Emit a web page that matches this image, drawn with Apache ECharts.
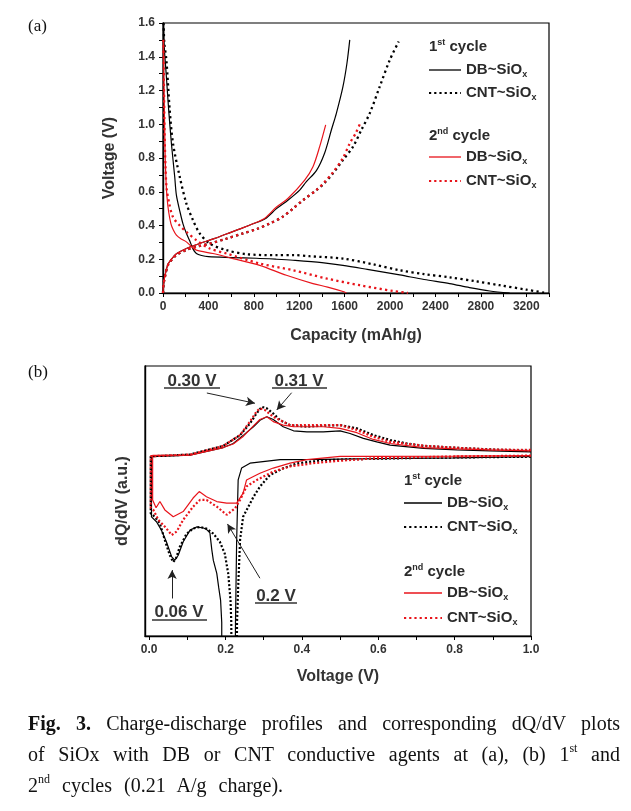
<!DOCTYPE html>
<html><head><meta charset="utf-8">
<script src="https://cdn.jsdelivr.net/npm/echarts@6/dist/echarts.min.js"></script>
<style>
html,body{margin:0;padding:0;background:#fff;}
#chart{position:absolute;left:0;top:0;width:631px;height:811px;}
.cap{position:absolute;left:28px;width:592px;font-family:"Liberation Serif","Times New Roman",serif;font-size:20px;line-height:24px;color:#111;text-align:justify;text-align-last:justify;}
.cap sup{font-size:12px;line-height:0;vertical-align:9px;}
</style></head><body>
<div id="chart"></div>
<div class="cap" style="top:711px"><b>Fig. 3.</b> Charge-discharge profiles and corresponding dQ/dV plots</div>
<div class="cap" style="top:742px">of SiOx with DB or CNT conductive agents at (a), (b) 1<sup>st</sup> and</div>
<div class="cap" style="top:773px;text-align:left;text-align-last:left;word-spacing:7px">2<sup>nd</sup> cycles (0.21 A/g charge).</div>
<script>
// ---------- (a) charge/discharge profiles: [capacity mAh/g, voltage V] ----------
const db1Discharge = [[5,1.6],[12,1.45],[30,1.28],[50,1.085],[74,0.887],[103,0.69],[118,0.58],[150,0.48],[176,0.41],[205,0.355],[235,0.31],[265,0.26],[294,0.234],[340,0.222],[400,0.215],[600,0.21],[822,0.206],[1000,0.2],[1145,0.194],[1400,0.18],[1585,0.164],[1800,0.14],[2085,0.107],[2300,0.08],[2525,0.056],[2700,0.032],[2878,0.012],[3054,0]];
const db1Charge = [[0,0],[5,0.05],[15,0.095],[44,0.17],[80,0.205],[118,0.232],[206,0.264],[323,0.293],[450,0.322],[558,0.35],[680,0.38],[793,0.41],[900,0.44],[1000,0.5],[1100,0.55],[1204,0.61],[1263,0.66],[1351,0.725],[1424,0.83],[1483,0.966],[1527,1.065],[1585,1.223],[1620,1.36],[1645,1.5]];
const cnt1Discharge = [[5,1.6],[12,1.48],[30,1.38],[59,1.085],[88,0.887],[147,0.69],[206,0.53],[264,0.432],[323,0.353],[411,0.293],[558,0.254],[734,0.23],[999,0.224],[1150,0.225],[1292,0.218],[1585,0.204],[1850,0.17],[2085,0.135],[2300,0.112],[2525,0.093],[2750,0.07],[2966,0.046],[3200,0.02],[3377,0]];
const cnt1Charge = [[0,0],[5,0.05],[15,0.09],[44,0.165],[80,0.2],[118,0.225],[206,0.255],[300,0.275],[411,0.293],[550,0.32],[705,0.353],[830,0.38],[940,0.412],[1050,0.45],[1145,0.5],[1233,0.55],[1351,0.61],[1420,0.65],[1497,0.709],[1585,0.788],[1674,0.867],[1747,0.966],[1821,1.065],[1909,1.223],[1997,1.38],[2076,1.49]];
const db2Discharge = [[3,1.5],[8,1.25],[12,1.085],[18,0.85],[25,0.69],[35,0.57],[50,0.48],[70,0.41],[90,0.375],[118,0.343],[160,0.32],[206,0.303],[250,0.275],[294,0.254],[440,0.234],[617,0.204],[852,0.164],[1087,0.105],[1321,0.056],[1450,0.035],[1600,0.006],[1615,0]];
const db2Charge = [[0,0],[5,0.05],[15,0.095],[44,0.17],[80,0.205],[118,0.232],[206,0.264],[323,0.293],[450,0.322],[558,0.35],[680,0.38],[793,0.41],[900,0.445],[1000,0.51],[1100,0.56],[1248,0.669],[1321,0.748],[1380,0.867],[1433,0.996]];
const cnt2Discharge = [[3,1.5],[8,1.25],[14,0.95],[22,0.75],[32,0.62],[55,0.53],[88,0.45],[147,0.4],[206,0.362],[294,0.313],[411,0.264],[558,0.234],[852,0.175],[1145,0.135],[1439,0.086],[1733,0.046],[2026,0.012],[2157,0]];
const cnt2Charge = [[0,0],[5,0.05],[15,0.09],[44,0.165],[80,0.2],[118,0.225],[206,0.255],[300,0.275],[411,0.293],[550,0.32],[705,0.353],[830,0.38],[940,0.412],[1050,0.45],[1145,0.5],[1233,0.55],[1351,0.61],[1420,0.655],[1497,0.715],[1585,0.8],[1645,0.887],[1700,0.95],[1733,1.0]];

// ---------- (b) dQ/dV: [voltage V, dQ/dV a.u.] ----------
const dqdvDB1 = [[1.000,66.4],[0.800,66.0],[0.600,65.7],[0.450,65.4],[0.343,65.3],[0.264,64.0],[0.242,62.2],[0.233,57.8],[0.229,35],[0.226,5],[0.225,-20],[0.190,-20],[0.190,5],[0.187,13.2],[0.182,18],[0.177,23.2],[0.168,28],[0.164,31.9],[0.159,38.2],[0.150,39.5],[0.142,40.0],[0.124,40.4],[0.107,39.2],[0.089,34.9],[0.076,29.9],[0.067,28.1],[0.059,29.3],[0.045,34.9],[0.032,39.2],[0.019,42.3],[0.006,44.1],[0.006,66.4],[0.010,66.4],[0.107,67.0],[0.194,69.8],[0.220,71.3],[0.247,74.4],[0.273,77.5],[0.290,79.9],[0.308,81.2],[0.325,80.2],[0.351,77.5],[0.378,76.0],[0.413,75.6],[0.456,75.6],[0.500,76.0],[0.526,75.0],[0.561,73.2],[0.596,71.9],[0.631,70.7],[0.719,69.5],[0.806,68.9],[0.893,68.6],[1.000,68.2]];
const dqdvCNT1 = [[1.000,66.4],[0.719,66.0],[0.544,65.5],[0.456,65.1],[0.386,63.9],[0.351,62.1],[0.316,59.6],[0.290,55.3],[0.273,51.5],[0.255,46.6],[0.246,44.2],[0.238,35.6],[0.233,18],[0.230,5],[0.229,-20],[0.216,-20],[0.215,5],[0.213,13.2],[0.207,23.1],[0.198,30.5],[0.185,34.9],[0.168,37.9],[0.150,39.8],[0.133,40.4],[0.115,39.8],[0.098,37.9],[0.080,33.0],[0.070,28.7],[0.063,27.4],[0.054,29.9],[0.041,35.5],[0.028,41.7],[0.015,44.1],[0.004,45.4],[0.004,66.6],[0.010,66.6],[0.107,67.2],[0.194,70.4],[0.238,74.4],[0.264,78.7],[0.281,82.4],[0.295,84.9],[0.308,84.3],[0.325,82.4],[0.343,79.9],[0.369,78.1],[0.413,77.5],[0.456,77.9],[0.500,78.1],[0.544,76.9],[0.587,74.4],[0.631,72.6],[0.675,71.3],[0.719,70.4],[0.806,69.7],[0.893,69.1],[1.000,68.6]];
const dqdvDB2 = [[1.000,66.8],[0.800,66.6],[0.600,66.5],[0.500,66.5],[0.413,65.3],[0.369,64.0],[0.325,62.2],[0.290,60.3],[0.273,59.1],[0.255,57.8],[0.246,52.9],[0.229,49.2],[0.203,49.2],[0.177,49.8],[0.150,51.6],[0.131,53.5],[0.115,51.1],[0.089,46.1],[0.063,44.2],[0.041,46.7],[0.028,49.8],[0.018,47.5],[0.009,50.4],[0.009,66.9],[0.012,66.6],[0.107,67.0],[0.194,69.8],[0.220,71.1],[0.247,74.0],[0.273,77.8],[0.290,80.2],[0.308,81.2],[0.325,79.4],[0.351,78.1],[0.378,77.5],[0.413,77.5],[0.456,77.5],[0.500,76.9],[0.544,75.3],[0.587,72.8],[0.631,71.3],[0.719,69.8],[0.806,69.3],[0.893,68.9],[1.000,68.6]];
const dqdvCNT2 = [[1.000,66.8],[0.800,66.5],[0.600,65.9],[0.490,64.8],[0.430,64.0],[0.369,62.8],[0.325,60.9],[0.282,57.8],[0.255,55.4],[0.238,50.4],[0.225,47.3],[0.203,44.9],[0.177,47.9],[0.150,50.4],[0.133,50.4],[0.115,47.9],[0.089,43.0],[0.072,38.7],[0.059,37.4],[0.041,40.5],[0.024,43.0],[0.011,46.7],[0.004,47.5],[0.004,66.6],[0.010,66.6],[0.107,67.2],[0.194,70.4],[0.238,74.4],[0.264,79.4],[0.281,83.1],[0.290,84.3],[0.303,83.7],[0.325,81.2],[0.351,79.4],[0.369,78.1],[0.413,78.1],[0.456,78.1],[0.500,78.1],[0.544,76.3],[0.587,73.8],[0.631,71.9],[0.719,70.5],[0.806,69.7],[0.893,69.1],[1.000,68.9]];

// ---------- tick labels and tick marks ----------
const capacityLabels = [0,400,800,1200,1600,2000,2400,2800,3200];
const capacityTicks = [0,200,400,600,800,1000,1200,1400,1600,1800,2000,2200,2400,2600,2800,3000,3200,3400];
const voltageLabelsA = [0,0.2,0.4,0.6,0.8,1.0,1.2,1.4,1.6];
const voltageTicksA = [0,0.1,0.2,0.3,0.4,0.5,0.6,0.7,0.8,0.9,1.0,1.1,1.2,1.3,1.4,1.5,1.6];
const voltageLabelsB = [0,0.2,0.4,0.6,0.8,1.0];
const voltageTicksB = [0,0.1,0.2,0.3,0.4,0.5,0.6,0.7,0.8,0.9,1.0];

// ---------- peak annotations (data coordinates of arrows) ----------
const arrowsB = [
  [[0.151,90.0],[0.277,86.2]],
  [[0.373,90.1],[0.334,83.7]],
  [[0.060,13.9],[0.060,24.4]],
  [[0.290,21.4],[0.205,41.5]]
];

const RED = '#e8141b', BLK = '#000';
const SANS = '"Liberation Sans", Arial, sans-serif';
const TXT = '#2a2a2a';

function lineA(name, data, color, dotted) {
  return {type:'line', name, data, xAxisIndex:0, yAxisIndex:0, showSymbol:false, symbol:'none',
    smooth:0.3, animation:false, silent:true,
    lineStyle:{color, width: dotted?2.3:1.2, type: dotted?[2.2,3.3]:'solid'}};
}
function lineB(name, data, color, dotted, extra) {
  return Object.assign({type:'line', name, data, xAxisIndex:1, yAxisIndex:1, showSymbol:false, symbol:'none',
    animation:false, silent:true,
    lineStyle:{color, width: dotted?2.2:1.2, type: dotted?[2,2]:'solid'}}, extra||{});
}

const axisLabelStyle = {color:'#333', fontWeight:'bold', fontSize:12, fontFamily:SANS};
const nameStyle = {color:'#333', fontWeight:'bold', fontSize:16, fontFamily:SANS};

function legendBlock(x, yHead1, rows1, yHead2, rows2, lineLen) {
  const g = [];
  const head = (y, num, sup) => g.push({type:'text', x:x, y:y, style:{
    text:'{n|'+num+'}{s|'+sup+'}{n| cycle}', align:'left', verticalAlign:'middle',
    rich:{n:{fontSize:15, fontWeight:'bold', fontFamily:SANS, fill:TXT, lineHeight:18},
          s:{fontSize:9, fontWeight:'bold', fontFamily:SANS, fill:TXT, lineHeight:18, verticalAlign:'top'}}}});
  const row = (y, label, color, dotted) => {
    g.push({type:'line', shape:{x1:x, y1:y, x2:x+lineLen, y2:y},
      style:{stroke:color, lineWidth: dotted?2.2:1.3, lineDash: dotted?[2.2,3]:null}});
    g.push({type:'text', x:x+lineLen+5, y:y, style:{
      text:'{n|'+label+'}{s|x}', align:'left', verticalAlign:'middle',
      rich:{n:{fontSize:15, fontWeight:'bold', fontFamily:SANS, fill:TXT, lineHeight:18},
            s:{fontSize:9, fontWeight:'bold', fontFamily:SANS, fill:TXT, lineHeight:18, verticalAlign:'bottom'}}}});
  };
  head(yHead1, '1', 'st');
  row(rows1[0], 'DB~SiO', BLK, false);
  row(rows1[1], 'CNT~SiO', BLK, true);
  head(yHead2, '2', 'nd');
  row(rows2[0], 'DB~SiO', RED, false);
  row(rows2[1], 'CNT~SiO', RED, true);
  return g;
}

function annot(text, cx, cy, ux1, ux2, uy) {
  return [
    {type:'text', x:cx, y:cy, style:{text, fontSize:17, fontWeight:'bold', fontFamily:SANS, fill:'#333', align:'center', verticalAlign:'middle'}},
    {type:'line', shape:{x1:ux1, y1:uy, x2:ux2, y2:uy}, style:{stroke:'#333', lineWidth:1.4}}
  ];
}

const graphics = [].concat(
  [{type:'text', x:28, y:27, style:{text:'(a)', fontSize:17, fontFamily:'"Liberation Serif", serif', fill:'#111', verticalAlign:'middle'}},
   {type:'text', x:28, y:373, style:{text:'(b)', fontSize:17, fontFamily:'"Liberation Serif", serif', fill:'#111', verticalAlign:'middle'}}],
  legendBlock(429, 47, [70, 93], 136, [157, 181], 32),
  legendBlock(404, 481, [503, 527], 572, [593, 618], 38),
  annot('0.30 V', 192, 381, 164, 220, 388),
  annot('0.31 V', 299, 381, 272, 327, 388),
  annot('0.06 V', 179, 612, 152, 207, 620),
  annot('0.2 V', 276, 596, 255, 297, 603)
);

const option = {
  backgroundColor:'#fff',
  animation:false,
  grid:[
    {left:163, top:23, width:386, height:270, show:true, borderColor:'#000', borderWidth:1.2, backgroundColor:'transparent'},
    {left:145, top:366, width:386, height:270, show:true, borderColor:'#000', borderWidth:1.2, backgroundColor:'transparent'}
  ],
  xAxis:[
    {type:'value', gridIndex:0, min:0, max:3400,
     axisLine:{onZero:false, lineStyle:{color:'#000', width:1.4}},
     axisTick:{length:4, lineStyle:{color:'#000'}, customValues:capacityTicks},
     axisLabel:Object.assign({margin:8, customValues:capacityLabels, formatter:v=>String(v)}, axisLabelStyle),
     splitLine:{show:false},
     name:'Capacity (mAh/g)', nameLocation:'middle', nameGap:35, nameTextStyle:nameStyle},
    {type:'value', gridIndex:1, min:-0.011, max:1.0,
     axisLine:{onZero:false, lineStyle:{color:'#000', width:1.4}},
     axisTick:{length:4, lineStyle:{color:'#000'}, customValues:voltageTicksB},
     axisLabel:Object.assign({margin:8, customValues:voltageLabelsB, formatter:v=>v.toFixed(1)}, axisLabelStyle),
     splitLine:{show:false},
     name:'Voltage (V)', nameLocation:'middle', nameGap:33, nameTextStyle:nameStyle}
  ],
  yAxis:[
    {type:'value', gridIndex:0, min:0, max:1.6,
     axisLine:{onZero:false, lineStyle:{color:'#000', width:1.4}},
     axisTick:{length:4, lineStyle:{color:'#000'}, customValues:voltageTicksA},
     axisLabel:Object.assign({margin:8, customValues:voltageLabelsA, formatter:v=>v.toFixed(1)}, axisLabelStyle),
     splitLine:{show:false},
     name:'Voltage (V)', nameLocation:'middle', nameGap:45, nameTextStyle:nameStyle},
    {type:'value', gridIndex:1, min:0, max:100,
     axisLine:{onZero:false, lineStyle:{color:'#000', width:1.4}},
     axisTick:{show:false}, axisLabel:{show:false}, splitLine:{show:false},
     name:'dQ/dV (a.u.)', nameLocation:'middle', nameGap:14, nameTextStyle:nameStyle}
  ],
  series:[
    lineA('1st DB discharge', db1Discharge, BLK, false),
    lineA('1st DB charge', db1Charge, BLK, false),
    lineA('1st CNT discharge', cnt1Discharge, BLK, true),
    lineA('1st CNT charge', cnt1Charge, BLK, true),
    lineA('2nd DB discharge', db2Discharge, RED, false),
    lineA('2nd DB charge', db2Charge, RED, false),
    lineA('2nd CNT discharge', cnt2Discharge, RED, true),
    lineA('2nd CNT charge', cnt2Charge, RED, true),
    lineB('1st DB dQ/dV', dqdvDB1, BLK, false, {
      markLine:{silent:true, symbol:['none','arrow'], symbolSize:[7,9], label:{show:false},
        lineStyle:{color:'#222', width:1, type:'solid'},
        data: arrowsB.map(a => [{coord:a[0]},{coord:a[1]}])}}),
    lineB('1st CNT dQ/dV', dqdvCNT1, BLK, true),
    lineB('2nd DB dQ/dV', dqdvDB2, RED, false),
    lineB('2nd CNT dQ/dV', dqdvCNT2, RED, true)
  ],
  graphic: graphics
};

const chart = echarts.init(document.getElementById('chart'));
chart.setOption(option);
</script>
</body></html>
